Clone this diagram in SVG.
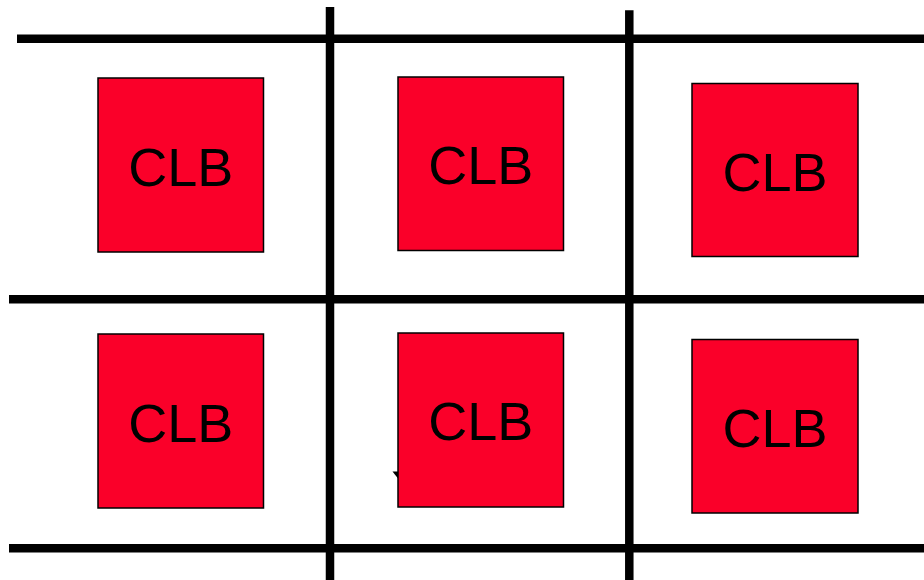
<svg xmlns="http://www.w3.org/2000/svg" width="924" height="580" viewBox="0 0 924 580">
  <style>
    .wire { stroke: #000; stroke-width: 8.5; fill: none; }
    .clb rect { fill: #FA0029; stroke: #000; stroke-width: 1.5; }
    .clb text { font-family: "Liberation Sans", Arial, sans-serif; font-size: 54px; fill: #000; text-anchor: middle; }
  </style>
  <rect x="0" y="0" width="924" height="580" fill="#fff"/>
  <g id="connectors">
    <line class="wire" x1="17" y1="38.7" x2="924" y2="38.7"/>
    <line class="wire" x1="9" y1="299.3" x2="924" y2="299.3"/>
    <line class="wire" x1="9" y1="548.3" x2="924" y2="548.3"/>
    <line class="wire" x1="330" y1="7" x2="330" y2="580"/>
    <line class="wire" x1="629.3" y1="10.3" x2="629.3" y2="580"/>
    <polygon points="392.5,471.5 404,471.5 398.8,479.5" fill="#000"/>
  </g>
  <g id="clb1" class="clb">
    <rect x="98" y="78" width="165.5" height="174"/>
    <text x="180.7" y="185.5">CLB</text>
  </g>
  <g id="clb2" class="clb">
    <rect x="398" y="77" width="165.5" height="173.5"/>
    <text x="480.7" y="184">CLB</text>
  </g>
  <g id="clb3" class="clb">
    <rect x="692" y="83.5" width="166" height="173"/>
    <text x="775" y="190.5">CLB</text>
  </g>
  <g id="clb4" class="clb">
    <rect x="98" y="334" width="165.5" height="174"/>
    <text x="180.7" y="441.5">CLB</text>
  </g>
  <g id="clb5" class="clb">
    <rect x="398" y="333" width="165.5" height="174"/>
    <text x="480.7" y="440">CLB</text>
  </g>
  <g id="clb6" class="clb">
    <rect x="692" y="339.5" width="166" height="173.5"/>
    <text x="775" y="446.5">CLB</text>
  </g>
</svg>
